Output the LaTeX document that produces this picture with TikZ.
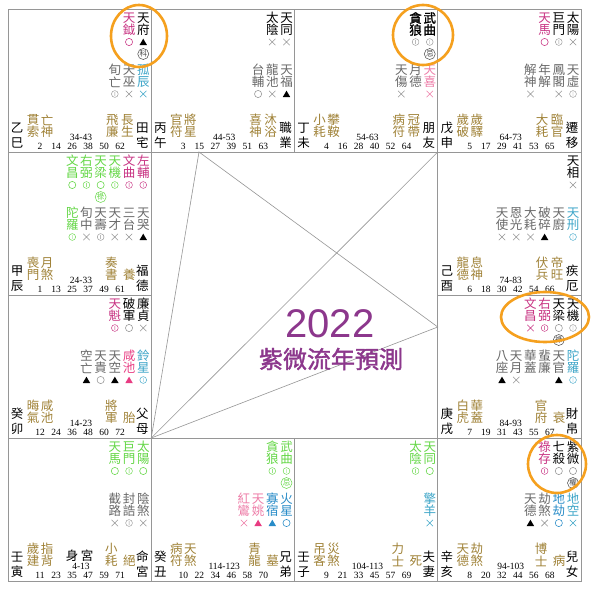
\documentclass[tikz,border=0pt]{standalone}
\usepackage{fontspec}
\setmainfont{Liberation Serif}
\newfontfamily\cjk{Noto Sans CJK TC}
\newfontfamily\cjkb{Noto Sans CJK TC}[FakeBold=1.6]
\newfontfamily\sfn{Liberation Sans}
\definecolor{cgray}{RGB}{105,105,105}
\definecolor{cmk}{RGB}{150,150,150}
\definecolor{cdark}{RGB}{70,70,70}
\definecolor{cmag}{RGB}{200,50,130}
\definecolor{cpink}{RGB}{238,125,168}
\definecolor{chot}{RGB}{232,60,130}
\definecolor{cgreen}{RGB}{100,215,70}
\definecolor{ccyan}{RGB}{60,165,200}
\definecolor{cblue}{RGB}{40,140,200}
\definecolor{cgold}{RGB}{160,130,55}
\definecolor{cpurple}{RGB}{140,55,140}
\definecolor{corange}{RGB}{245,160,30}
\definecolor{cline}{RGB}{150,150,150}
\newcounter{nn}
\let\zcfam\cjk
\tikzset{
  zch/.style={font=\zcfam\fontsize{12.5}{12.5}\selectfont, inner sep=0pt, anchor=center},
  znum/.style={font=\fontsize{9.5}{9.5}\selectfont, inner sep=0pt, anchor=center},
  zgrid/.style={draw=cline, line width=0.9pt},
  zdiag/.style={draw=cline, line width=0.6pt},
  zring/.style={draw=corange, line width=2.6pt}
}
\newcommand\zN{\stepcounter{nn}}
\newcommand\zc[4]{\zN\node[zch,text=#3] (n\arabic{nn}) at (#1,#2) {#4};}
\newcommand\mkX[3]{\draw[#3,line width=0.55pt,shift={(#1,#2)}] (-3.2,-3.2) -- (3.2,3.2) (-3.2,3.2) -- (3.2,-3.2);}
\newcommand\mkO[3]{\draw[#3,line width=0.55pt] (#1,#2) circle[radius=3.6pt];}
\newcommand\mkT[3]{\fill[#3,shift={(#1,#2)}] (-3.7,3) -- (3.7,3) -- (0,-3.3) -- cycle;}
\newcommand\mkW[3]{\draw[#3,line width=0.45pt,shift={(#1,#2)}] (0,0) circle[radius=3.4pt] (0,-1.9) -- (0,1.9);}
\newcommand\mkN[3]{}
\newcommand\zs[7]{%
  \pgfmathsetmacro\sx{135.25-14.2*#1}%
  \ifnum#2=0 \def\sy{9}\else\def\sy{61}\fi
  \pgfmathsetmacro\syb{\sy+12}%
  \pgfmathsetmacro\sym{\sy+24}%
  \zc{\sx}{\sy}{#3}{#4}\zc{\sx}{\syb}{#3}{#5}%
  \csname mk#6\endcsname{\sx}{\sym}{#7}}
\newcommand\zh[3]{\pgfmathsetmacro\sx{135.25-14.2*#1}\zN\node[circle,draw=#2,text=#2,line width=0.5pt,inner sep=0pt,minimum size=11pt,font=\cjk\fontsize{7.5}{7.5}\selectfont] (n\arabic{nn}) at (\sx,45) {#3};}
\newcommand\zg[3]{\zc{#1}{111}{cgold}{#2}\zc{#1}{123}{cgold}{#3}}
\newcommand\zp[4]{\zc{9}{119}{black}{#1}\zc{9}{134}{black}{#2}\zc{134.25}{119}{black}{#3}\zc{134.25}{134}{black}{#4}}
\newcommand\zr[1]{\zN\node[znum] (n\arabic{nn}) at (73,128) {#1};}
\newcommand\znm[2]{\zN\node[znum] (n\arabic{nn}) at (#1,137) {#2};}
\newcommand\znums[6]{\znm{32}{#1}\znm{48}{#2}\znm{64}{#3}\znm{80}{#4}\znm{96}{#5}\znm{112}{#6}}
\begin{document}
\begin{tikzpicture}[x=1pt,y=-1pt]
\useasboundingbox (0,0) rectangle (591,589);
\fill[white] (0,0) rectangle (591,589);
% grid
\draw[zgrid] (8,9) rectangle (581,581);
\draw[zgrid] (151.25,9) -- (151.25,581) (437.75,9) -- (437.75,581)
  (294.5,9) -- (294.5,152) (294.5,438) -- (294.5,581)
  (8,152) -- (581,152) (8,438) -- (581,438)
  (8,295) -- (151.25,295) (437.75,295) -- (581,295);
% center lines
\coordinate (cBL) at (151.25,438);
\coordinate (cTop) at (199,152);
\coordinate (cRight) at (437.75,327);
\coordinate (cTR) at (437.75,152);
\draw[zdiag] (cBL) -- (cTop) -- (cRight) -- cycle;
\draw[zdiag] (cBL) -- (cTR);
\node[text=cpurple, font=\sfn\fontsize{40}{40}\selectfont, inner sep=0pt] (yr) at (330,324) {2022};
\node[text=cpurple, font=\cjkb\fontsize{24}{24}\selectfont, inner sep=0pt] (ttl) at (331,359) {紫微流年預測};
% cell 乙巳
\begin{scope}[shift={(8,9)}]
\zs{0}{0}{black}{天}{府}{T}{black}\zh{0}{cdark}{科}
\zs{1}{0}{cmag}{天}{鉞}{O}{cmag}
\zs{0}{1}{ccyan}{孤}{辰}{X}{ccyan}
\zs{1}{1}{cgray}{天}{巫}{X}{cmk}
\zs{2}{1}{cgray}{旬}{亡}{W}{cmk}
\zg{25}{貫}{索}\zg{39}{亡}{神}\zg{104.25}{飛}{廉}\zg{119.25}{長}{生}
\zp{乙}{巳}{田}{宅}
\zr{34-43}\znums{2}{14}{26}{38}{50}{62}
\end{scope}
% cell 丙午
\begin{scope}[shift={(151.25,9)}]
\zs{0}{0}{black}{天}{同}{X}{cmk}
\zs{1}{0}{black}{太}{陰}{X}{cmk}
\zs{0}{1}{cgray}{天}{福}{T}{black}
\zs{1}{1}{cgray}{龍}{池}{X}{cmk}
\zs{2}{1}{cgray}{台}{輔}{O}{cmk}
\zg{25}{官}{符}\zg{39}{將}{星}\zg{104.25}{喜}{神}\zg{119.25}{沐}{浴}
\zp{丙}{午}{職}{業}
\zr{44-53}\znums{3}{15}{27}{39}{51}{63}
\end{scope}
% cell 丁未
\begin{scope}[shift={(294.5,9)}]
\let\zcfam\cjkb
\zs{0}{0}{black}{武}{曲}{W}{cmk}
\zs{1}{0}{black}{貪}{狼}{W}{cmk}
\let\zcfam\cjk
\zh{0}{cdark}{忌}
\zs{0}{1}{cpink}{天}{喜}{X}{cpink}
\zs{1}{1}{cgray}{月}{德}{N}{}
\zs{2}{1}{cgray}{天}{傷}{X}{cmk}
\zg{25}{小}{耗}\zg{39}{攀}{鞍}\zg{104.25}{病}{符}\zg{119.25}{冠}{帶}
\zp{丁}{未}{朋}{友}
\zr{54-63}\znums{4}{16}{28}{40}{52}{64}
\end{scope}
% cell 戊申
\begin{scope}[shift={(437.75,9)}]
\zs{0}{0}{black}{太}{陽}{X}{cmk}
\zs{1}{0}{black}{巨}{門}{W}{cmk}
\zs{2}{0}{cmag}{天}{馬}{O}{cmag}
\zs{0}{1}{cgray}{天}{虛}{W}{cmk}
\zs{1}{1}{cgray}{鳳}{閣}{X}{cmk}
\zs{2}{1}{cgray}{年}{解}{N}{}
\zs{3}{1}{cgray}{解}{神}{X}{cmk}
\zg{25}{歲}{破}\zg{39}{歲}{驛}\zg{104.25}{大}{耗}\zg{119.25}{臨}{官}
\zp{戊}{申}{遷}{移}
\zr{64-73}\znums{5}{17}{29}{41}{53}{65}
\end{scope}
% cell 甲辰
\begin{scope}[shift={(8,152)}]
\zs{0}{0}{cmag}{左}{輔}{W}{cmag}
\zs{1}{0}{cmag}{文}{曲}{W}{cmag}
\zs{2}{0}{cgreen}{天}{機}{W}{cgreen}
\zs{3}{0}{cgreen}{天}{梁}{O}{cgreen}\zh{3}{cgreen}{祿}
\zs{4}{0}{cgreen}{右}{弼}{W}{cgreen}
\zs{5}{0}{cgreen}{文}{昌}{O}{cgreen}
\zs{0}{1}{cgray}{天}{哭}{T}{black}
\zs{1}{1}{cgray}{三}{台}{X}{cmk}
\zs{2}{1}{cgray}{天}{才}{X}{cmk}
\zs{3}{1}{cgray}{天}{壽}{W}{cmk}
\zs{4}{1}{cgray}{旬}{中}{X}{cmk}
\zs{5}{1}{cgreen}{陀}{羅}{W}{cgreen}
\zg{25}{喪}{門}\zg{39}{月}{煞}\zg{103.25}{奏}{書}\zc{121.25}{123}{cgold}{養}
\zp{甲}{辰}{福}{德}
\zr{24-33}\znums{1}{13}{25}{37}{49}{61}
\end{scope}
% cell 己酉
\begin{scope}[shift={(437.75,152)}]
\zs{0}{0}{black}{天}{相}{X}{cmk}
\zs{0}{1}{ccyan}{天}{刑}{W}{ccyan}
\zs{1}{1}{cgray}{天}{廚}{N}{}
\zs{2}{1}{cgray}{破}{碎}{T}{black}
\zs{3}{1}{cgray}{大}{耗}{X}{cmk}
\zs{4}{1}{cgray}{恩}{光}{X}{cmk}
\zs{5}{1}{cgray}{天}{使}{X}{cmk}
\zg{25}{龍}{德}\zg{39}{息}{神}\zg{104.25}{伏}{兵}\zg{119.25}{帝}{旺}
\zp{己}{酉}{疾}{厄}
\zr{74-83}\znums{6}{18}{30}{42}{54}{66}
\end{scope}
% cell 癸卯
\begin{scope}[shift={(8,295)}]
\zs{0}{0}{black}{廉}{貞}{X}{cmk}
\zs{1}{0}{black}{破}{軍}{O}{cmk}
\zs{2}{0}{cmag}{天}{魁}{W}{cmag}
\zs{0}{1}{ccyan}{鈴}{星}{W}{ccyan}
\zs{1}{1}{chot}{咸}{池}{T}{chot}
\zs{2}{1}{cgray}{天}{空}{T}{black}
\zs{3}{1}{cgray}{天}{貴}{O}{cmk}
\zs{4}{1}{cgray}{空}{亡}{T}{black}
\zg{25}{晦}{氣}\zg{39}{咸}{池}\zg{103.25}{將}{軍}\zc{121.25}{123}{cgold}{胎}
\zp{癸}{卯}{父}{母}
\zr{14-23}\znums{12}{24}{36}{48}{60}{72}
\end{scope}
% cell 庚戌
\begin{scope}[shift={(437.75,295)}]
\zs{0}{0}{black}{天}{機}{W}{cmk}
\zs{1}{0}{black}{天}{梁}{O}{cmk}\zh{1}{cdark}{祿}
\zs{2}{0}{cmag}{右}{弼}{W}{cmag}
\zs{3}{0}{cmag}{文}{昌}{X}{cmag}
\zs{0}{1}{ccyan}{陀}{羅}{W}{ccyan}
\zs{1}{1}{cgray}{天}{官}{T}{black}
\zs{2}{1}{cgray}{蜚}{廉}{N}{}
\zs{3}{1}{cgray}{華}{蓋}{N}{}
\zs{4}{1}{cgray}{天}{月}{X}{cmk}
\zs{5}{1}{cgray}{八}{座}{T}{black}
\zg{25}{白}{虎}\zg{39}{華}{蓋}\zg{103.25}{官}{府}\zc{121.25}{123}{cgold}{衰}
\zp{庚}{戌}{財}{帛}
\zr{84-93}\znums{7}{19}{31}{43}{55}{67}
\end{scope}
% cell 壬寅
\begin{scope}[shift={(8,438)}]
\zs{0}{0}{cgreen}{太}{陽}{O}{cgreen}
\zs{1}{0}{cgreen}{巨}{門}{W}{cgreen}
\zs{2}{0}{cgreen}{天}{馬}{O}{cgreen}
\zs{0}{1}{cgray}{陰}{煞}{X}{cmk}
\zs{1}{1}{cgray}{封}{誥}{W}{cmk}
\zs{2}{1}{cgray}{截}{路}{X}{cmk}
\zg{25}{歲}{建}\zg{39}{指}{背}\zg{103.25}{小}{耗}\zc{121.25}{123}{cgold}{絕}
\zc{64}{118}{black}{身}\zc{79}{118}{black}{宮}
\zp{壬}{寅}{命}{宮}
\zr{4-13}\znums{11}{23}{35}{47}{59}{71}
\end{scope}
% cell 癸丑
\begin{scope}[shift={(151.25,438)}]
\zs{0}{0}{cgreen}{武}{曲}{W}{cgreen}\zh{0}{cgreen}{忌}
\zs{1}{0}{cgreen}{貪}{狼}{W}{cgreen}
\zs{0}{1}{cblue}{火}{星}{O}{cblue}
\zs{1}{1}{cblue}{寡}{宿}{T}{cblue}
\zs{2}{1}{cpink}{天}{姚}{T}{chot}
\zs{3}{1}{cpink}{紅}{鸞}{X}{cpink}
\zg{25}{病}{符}\zg{39}{天}{煞}\zg{103.25}{青}{龍}\zc{121.25}{123}{cgold}{墓}
\zp{癸}{丑}{兄}{弟}
\zr{114-123}\znums{10}{22}{34}{46}{58}{70}
\end{scope}
% cell 壬子
\begin{scope}[shift={(294.5,438)}]
\zs{0}{0}{cgreen}{天}{同}{O}{cgreen}
\zs{1}{0}{cgreen}{太}{陰}{W}{cgreen}
\zs{0}{1}{ccyan}{擎}{羊}{X}{ccyan}
\zg{25}{吊}{客}\zg{39}{災}{煞}\zg{103.25}{力}{士}\zc{121.25}{123}{cgold}{死}
\zp{壬}{子}{夫}{妻}
\zr{104-113}\znums{9}{21}{33}{45}{57}{69}
\end{scope}
% cell 辛亥
\begin{scope}[shift={(437.75,438)}]
\zs{0}{0}{black}{紫}{微}{O}{cmk}\zh{0}{cdark}{權}
\zs{1}{0}{black}{七}{殺}{O}{cmk}
\zs{2}{0}{cmag}{祿}{存}{W}{cmag}
\zs{0}{1}{ccyan}{地}{空}{X}{ccyan}
\zs{1}{1}{cblue}{地}{劫}{O}{cblue}
\zs{2}{1}{cgray}{劫}{煞}{X}{cmk}
\zs{3}{1}{cgray}{天}{德}{T}{black}
\zg{25}{天}{德}\zg{39}{劫}{煞}\zg{103.25}{博}{士}\zc{121.25}{123}{cgold}{病}
\zp{辛}{亥}{兒}{女}
\zr{94-103}\znums{8}{20}{32}{44}{56}{68}
\end{scope}
% orange rings
\draw[zring] (139,36) ellipse[x radius=28pt, y radius=31pt];
\draw[zring] (423,35) ellipse[x radius=30pt, y radius=30pt];
\draw[zring] (545,317) ellipse[x radius=44pt, y radius=25pt];
\draw[zring] (557,464) ellipse[x radius=29pt, y radius=29pt];
\end{tikzpicture}
\end{document}
